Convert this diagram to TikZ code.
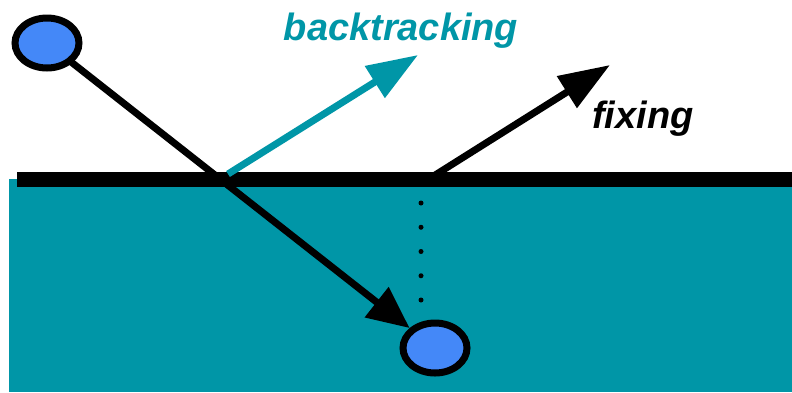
\documentclass[tikz,border=0pt]{standalone}
\usepackage{fontspec}
\setmainfont{Liberation Sans}
\usetikzlibrary{arrows.meta,shapes.geometric}
\definecolor{tealc}{RGB}{0,150,167}
\definecolor{ballc}{RGB}{68,136,248}
\pgfdeclarelayer{background}
\pgfsetlayers{background,main}
\begin{document}
\begin{tikzpicture}[x=1pt,y=-1pt,
  ball/.style={ellipse,draw=black,fill=ballc,line width=7pt,minimum width=64pt,minimum height=50pt,inner sep=0pt},
  bigarrow/.style={line width=7pt,-{Triangle[length=51pt,width=36pt]}},
  lbl/.style={font=\fontsize{38}{42}\selectfont\bfseries\itshape,inner sep=0pt,anchor=base}]
\useasboundingbox (0,0) rectangle (792,392);
\node[ball] (c1) at (47,43) {};
\node[ball] (c2) at (435,348) {};
\coordinate (hl) at (17,179);
\coordinate (hr) at (792,179);
\coordinate (bs) at (228,174);
\coordinate (bt) at (418,55);
\coordinate (fs) at (432,177);
\coordinate (ft) at (610,65);
\coordinate (d1) at (421,203);
\coordinate (d2) at (421,300);
\begin{pgfonlayer}{background}
\fill[tealc] (9,179) rectangle (792,392);
\draw[line width=15pt] (hl) -- (hr);
\draw[bigarrow,-{Triangle[length=42pt,width=37pt]}] (c1.center) -- (c2);
\draw[bigarrow,tealc] (bs) -- (bt);
\draw[bigarrow,black] (fs) -- (ft);
\draw[line width=5pt,line cap=round,dash pattern=on 0pt off 24.25pt] (d1) -- (d2);
\end{pgfonlayer}
\node[lbl,text=tealc] (lb) at (401,40) {backtracking};
\node[lbl,text=black] (lf) at (643,128) {fixing};
\end{tikzpicture}
\end{document}
